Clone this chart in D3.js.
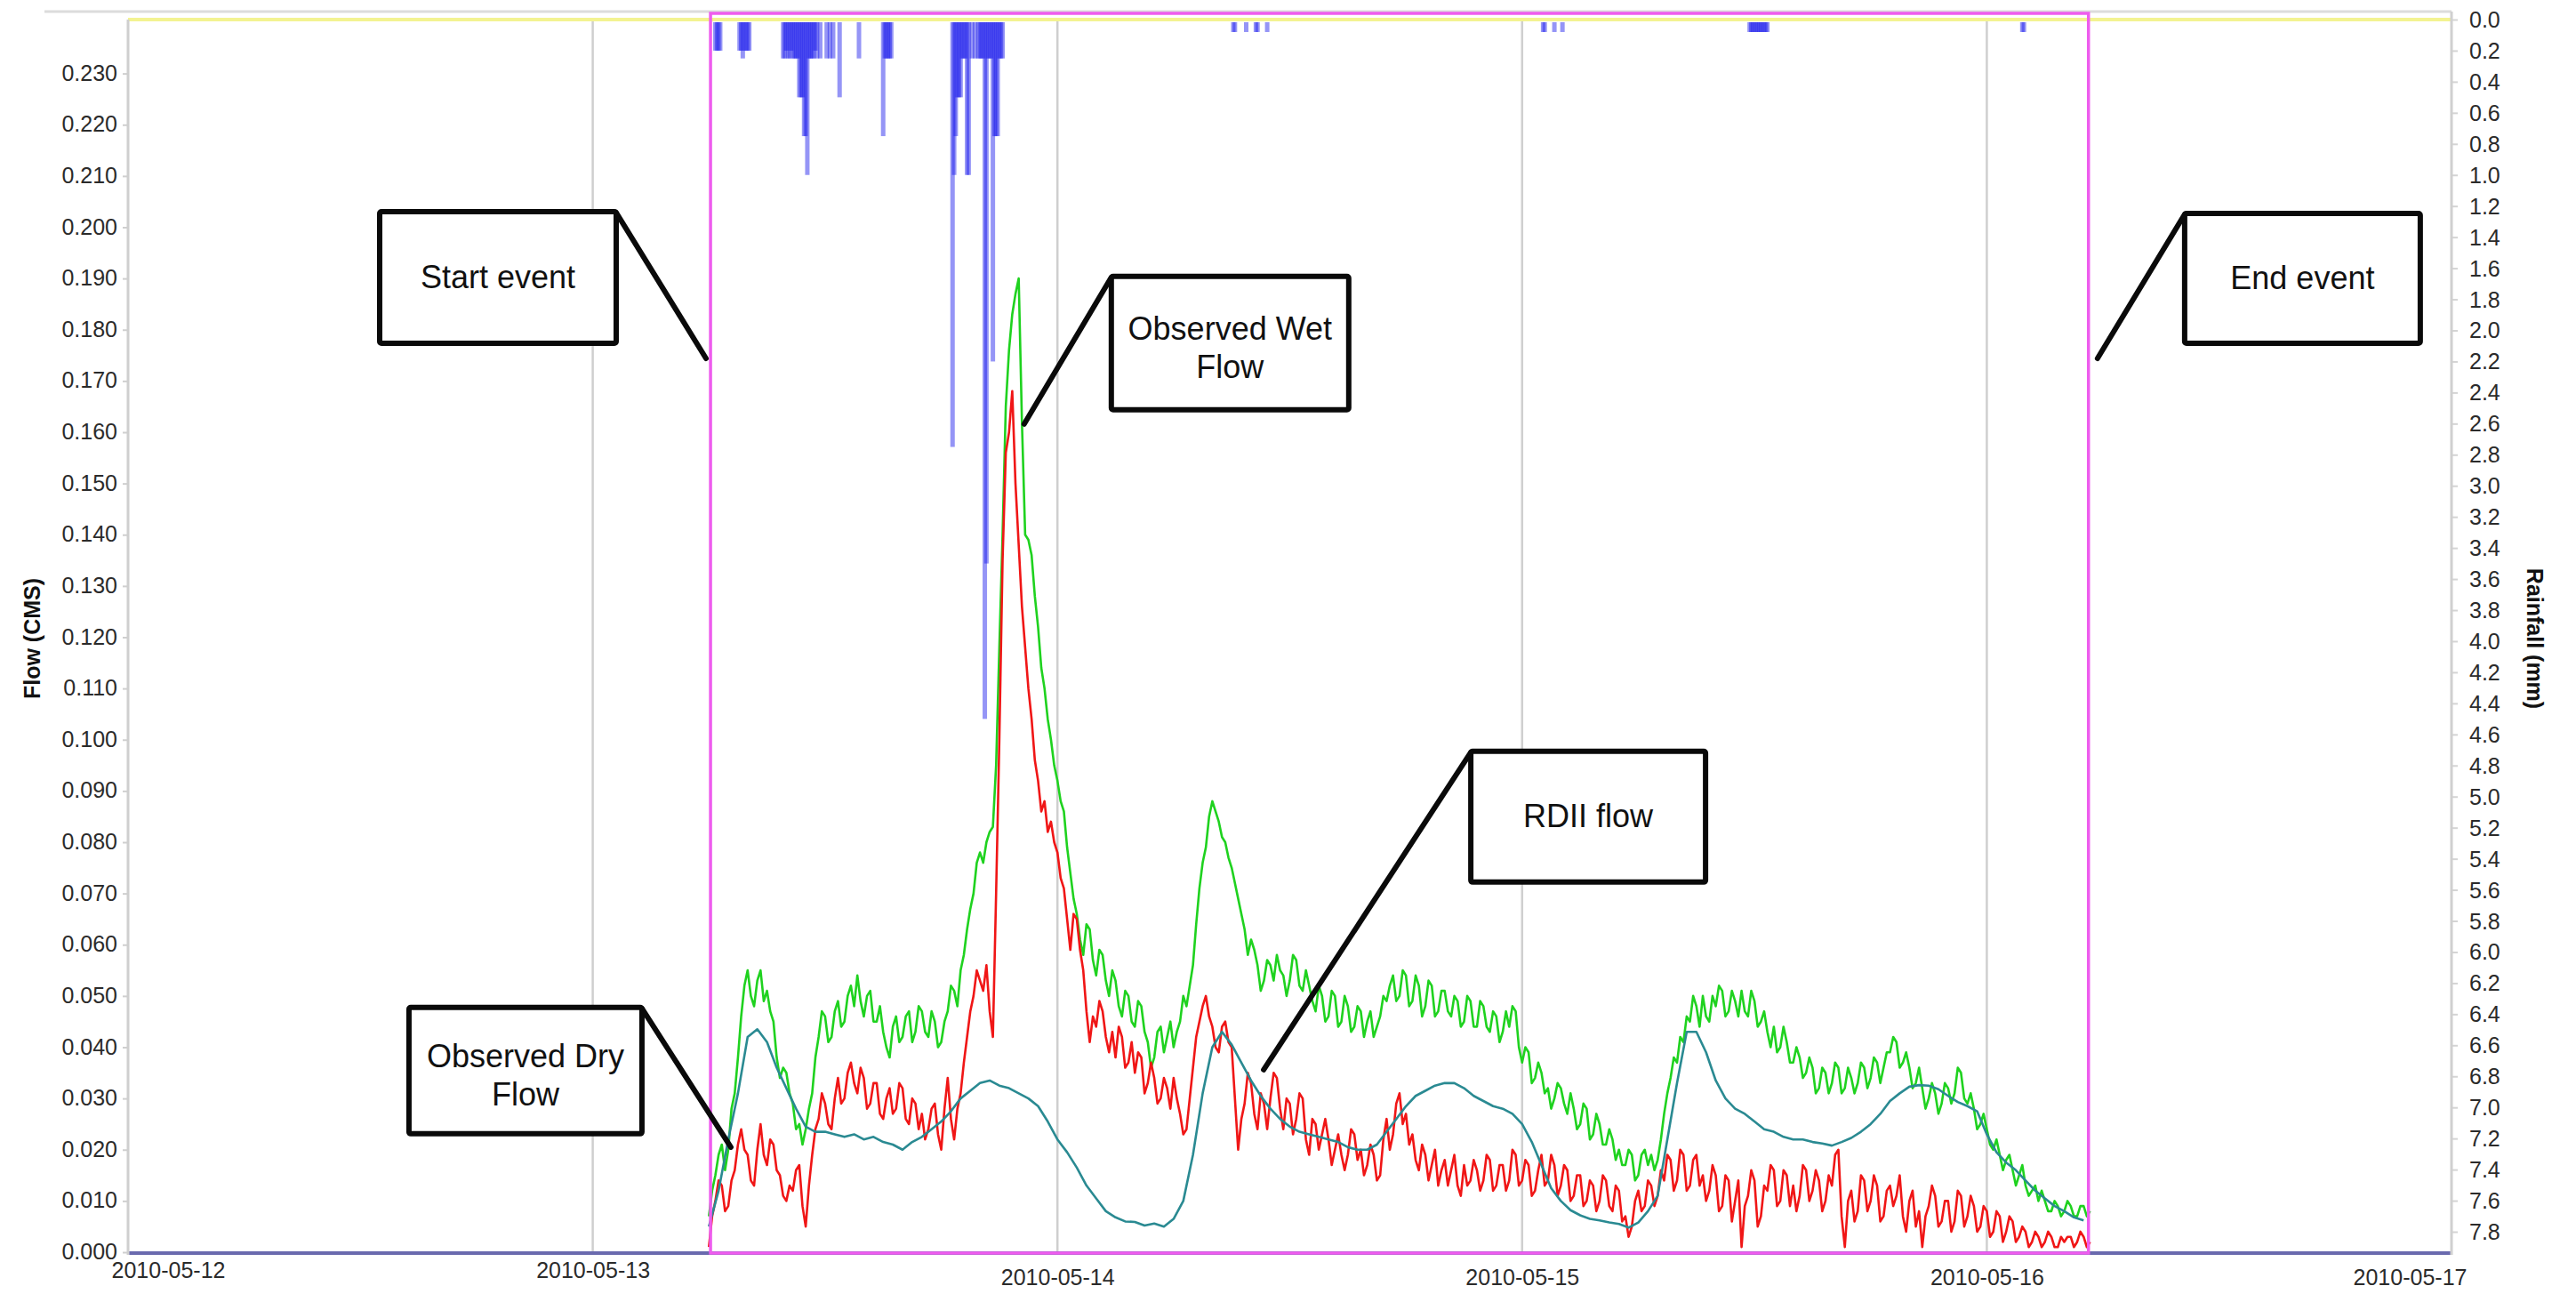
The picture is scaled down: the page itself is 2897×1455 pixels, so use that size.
<!DOCTYPE html>
<html>
<head>
<meta charset="utf-8">
<script src="https://cdn.jsdelivr.net/npm/d3@7"></script>
<style>
  body { margin: 0; background: #fff; }
  svg { display: block; }
  text { font-family: "Liberation Sans", Arial, sans-serif; }
</style>
</head>
<body>
<svg id="chart" width="2897" height="1455"></svg>
<script>
// ---------------------------------------------------------------
// Data
// ---------------------------------------------------------------
const dayTicks = ["2010-05-12", "2010-05-13", "2010-05-14", "2010-05-15", "2010-05-16", "2010-05-17"];

const flowTicks = [0.000, 0.010, 0.020, 0.030, 0.040, 0.050, 0.060, 0.070, 0.080, 0.090,
                   0.100, 0.110, 0.120, 0.130, 0.140, 0.150, 0.160, 0.170, 0.180, 0.190,
                   0.200, 0.210, 0.220, 0.230];

const rainTicks = [0.0, 0.2, 0.4, 0.6, 0.8, 1.0, 1.2, 1.4, 1.6, 1.8, 2.0, 2.2, 2.4, 2.6, 2.8,
                   3.0, 3.2, 3.4, 3.6, 3.8, 4.0, 4.2, 4.4, 4.6, 4.8, 5.0, 5.2, 5.4, 5.6, 5.8,
                   6.0, 6.2, 6.4, 6.6, 6.8, 7.0, 7.2, 7.4, 7.6, 7.8];

// Event window
const eventStart = "2010-05-13T06:05";
const eventEnd   = "2010-05-16T05:15";

// Flow records start at 2010-05-13 06:00; values in L/s, one row per hour
const flowRecordStart = "2010-05-13T06:00";

const wetStepMin = 10;
const wetFlowLps = [
  7, 12, 15, 19, 21, 16,        20, 28, 31, 38, 46, 52,       55, 50, 48, 53, 55, 49,
  51, 47, 45, 38, 34, 36,       35, 31, 29, 24, 25, 21,       24, 28, 31, 38, 42, 47,
  46, 41, 42, 47, 49, 44,       45, 50, 52, 48, 54, 49,       46, 50, 51, 45, 45, 48,
  43, 40, 38, 44, 46, 41,       42, 46, 47, 41, 43, 48,       47, 43, 42, 47, 45, 40,
  41, 45, 47, 52, 51, 48,       55, 58, 63, 67, 70, 76,       78, 76, 80, 82, 83, 95,
  118, 140, 165, 176, 183, 187, 190, 162, 140, 139, 136, 128, 122, 114, 110, 104, 100, 95,
  92, 88, 86, 79, 74, 69,       66, 61, 58, 64, 63, 57,       54, 59, 58, 53, 50, 55,
  53, 48, 46, 51, 50, 45,       44, 49, 48, 43, 41, 36,       38, 43, 44, 39, 42, 45,
  40, 43, 45, 50, 48, 52,       56, 64, 71, 76, 79, 85,       88, 86, 84, 81, 80, 77,
  75, 72, 69, 66, 63, 58,       61, 59, 56, 51, 53, 57,       56, 53, 58, 55, 54, 50,
  53, 58, 57, 52, 51, 55,       52, 49, 47, 52, 50, 45,       46, 51, 50, 44, 45, 50,
  48, 43, 44, 48, 47, 42,       45, 47, 42, 44, 46, 50,       49, 52, 54, 49, 50, 55,
  54, 48, 49, 54, 52, 46,       48, 53, 52, 46, 47, 51,       51, 47, 46, 50, 49, 44,
  45, 50, 49, 44, 44, 49,       48, 44, 43, 47, 46, 41,       43, 47, 44, 48, 47, 40,
  37, 40, 39, 33, 34, 37,       35, 31, 32, 28, 30, 33,       32, 29, 27, 31, 28, 24,
  25, 29, 28, 22, 23, 27,       25, 21, 21, 24, 22, 18,       20, 17, 17, 20, 19, 14,
  15, 19, 20, 17, 19, 16,       18, 22, 27, 31, 34, 38,       37, 42, 41, 46, 45, 50,
  48, 44, 50, 46, 45, 50,       48, 52, 51, 46, 47, 51,       49, 46, 51, 47, 46, 51,
  49, 44, 45, 47, 43, 40,       44, 39, 40, 44, 41, 37,       37, 40, 38, 34, 35, 38,
  36, 31, 32, 36, 35, 31,       33, 37, 36, 31, 32, 36,       34, 31, 33, 37, 36, 32,
  34, 38, 37, 33, 36, 39,       39, 42, 41, 36, 37, 39,       36, 32, 33, 36, 32, 28,
  30, 33, 31, 27, 29, 33,       32, 29, 31, 36, 35, 30,       29, 31, 28, 24, 25, 27,
  24, 21, 20, 22, 19, 16,       18, 19, 16, 13, 15, 17,       13, 11, 12, 13, 10, 12,
  10, 8, 8, 10, 9, 7,           8, 10, 9, 7, 7, 9,            9, 7, 8
];

const rdiiStepMin = 10;
const rdiiFlowLps = [
  1, 7, 10, 14, 13, 8,          9, 14, 16, 21, 24, 20,        19, 14, 13, 20, 25, 19,
  17, 22, 21, 16, 15, 11,       10, 13, 12, 16, 17, 9,        5, 13, 19, 24, 26, 31,
  29, 25, 24, 30, 34, 29,       30, 35, 37, 33, 31, 36,       34, 28, 29, 33, 33, 27,
  26, 30, 32, 27, 28, 33,       32, 26, 25, 30, 29, 24,       27, 22, 24, 28, 29, 23,
  20, 28, 34, 26, 22, 28,       31, 37, 42, 47, 50, 55,       53, 51, 56, 47, 42, 70,
  100, 135, 156, 160, 168, 150, 138, 126, 118, 110, 104, 96,  92, 86, 88, 82, 84, 80,
  78, 73, 71, 65, 59, 66,       65, 59, 55, 47, 41, 46,       44, 49, 47, 42, 39, 43,
  38, 44, 42, 36, 37, 41,       35, 39, 38, 31, 33, 37,       34, 29, 30, 34, 32, 28,
  34, 30, 27, 23, 24, 30,       36, 42, 45, 48, 50, 46,       44, 40, 39, 44, 45, 41,
  40, 30, 20, 26, 29, 35,       33, 27, 24, 31, 29, 24,       30, 35, 34, 28, 24, 30,
  29, 23, 26, 31, 30, 22,       19, 26, 25, 20, 23, 26,       22, 17, 20, 23, 19, 16,
  19, 24, 23, 18, 20, 15,       17, 21, 19, 14, 15, 22,       26, 20, 23, 29, 31, 25,
  27, 21, 23, 18, 16, 21,       19, 14, 17, 20, 13, 16,       18, 13, 16, 19, 13, 11,
  17, 13, 14, 18, 16, 12,       14, 19, 18, 12, 13, 17,       17, 12, 14, 20, 19, 13,
  14, 18, 17, 11, 12, 16,       19, 13, 14, 19, 17, 11,       13, 17, 16, 10, 11, 15,
  15, 9, 10, 14, 13, 8,         10, 15, 14, 9, 8, 13,         12, 6, 7, 3, 5, 10,
  12, 8, 9, 14, 13, 9,          11, 16, 14, 19, 18, 12,       14, 20, 19, 12, 13, 18,
  19, 13, 15, 10, 12, 17,       15, 8, 9, 15, 14, 6,          10, 14, 1, 9, 11, 16,
  14, 5, 7, 13, 12, 17,         16, 9, 10, 16, 15, 9,         13, 8, 11, 17, 16, 10,
  12, 16, 14, 8, 10, 15,        13, 19, 20, 7, 1, 10,         12, 6, 8, 15, 14, 8,
  10, 15, 13, 6, 7, 12,         13, 9, 11, 15, 7, 4,          10, 12, 5, 8, 1, 7,
  9, 13, 11, 5, 6, 10,          10, 4, 6, 12, 11, 5,          7, 11, 9, 4, 5, 9,
  8, 3, 4, 8, 7, 2,             4, 7, 6, 2, 3, 5,             4, 1, 2, 4, 3, 1,
  2, 4, 3, 1, 1, 3,             2, 3, 3, 1, 2, 4,             3, 1, 2
];

const dryStepMin = 30;
const dryFlowLps = [
  5, 12,     22, 31,     42, 43.5,   41, 36,     32, 28,     24.5, 23.5,
  23.5, 23,  22.5, 23,   22, 22.5,   21.5, 21,   20, 21.5,   22.5, 24,
  25.5, 27.5, 30, 31.5,  33, 33.5,   32.5, 32,   31, 30,     28.5, 25.5,
  22, 19.5,  16.5, 13,   10.5, 8,    6.8, 6,     5.9, 5.2,   5.6, 5,
  6.5, 10,   19, 31,     40, 43,     40.5, 37,   33.5, 30.5, 28, 26,
  24.5, 23.5, 23, 22.5,  22, 21.5,   20.5, 20,   20, 21,     23.5, 26,
  28.5, 30.5, 31.5, 32.5, 33, 33,    32, 30.5,   29.5, 28.5, 28, 27,
  25, 21.5,  17, 12.5,   10, 8.2,    7.2, 6.5,   6.2, 5.8,   5.5, 4.8,
  5.8, 8,    11, 22,     33, 43,     43, 39,     33.5, 30,   28, 27,
  25.5, 24,  23.5, 22.5, 22, 22,     21.5, 21.2, 20.8, 21.5, 22.3, 23.5,
  25, 27,    29.5, 31,   32.3, 32.6, 32.5, 31.8, 30.5, 29.3, 28.5, 27.5,
  23, 19.5,  17.5, 16,   14, 12,     10.5, 9,    8, 6.8,     6.2
];

// Rainfall (mm per 5-minute interval)
const rainTimes = [
  "2010-05-13T06:20", "2010-05-13T06:25", "2010-05-13T06:30", "2010-05-13T06:35",
  "2010-05-13T07:35", "2010-05-13T07:40", "2010-05-13T07:45", "2010-05-13T07:50",
  "2010-05-13T07:55", "2010-05-13T08:00", "2010-05-13T08:05",
  "2010-05-13T09:50", "2010-05-13T09:55", "2010-05-13T10:00", "2010-05-13T10:05",
  "2010-05-13T10:10", "2010-05-13T10:15", "2010-05-13T10:20", "2010-05-13T10:25",
  "2010-05-13T10:30", "2010-05-13T10:35", "2010-05-13T10:40", "2010-05-13T10:45",
  "2010-05-13T10:50", "2010-05-13T10:55", "2010-05-13T11:00", "2010-05-13T11:05",
  "2010-05-13T11:10", "2010-05-13T11:15", "2010-05-13T11:20", "2010-05-13T11:25",
  "2010-05-13T11:30", "2010-05-13T11:35", "2010-05-13T11:45",
  "2010-05-13T12:05", "2010-05-13T12:15", "2010-05-13T12:25", "2010-05-13T12:45",
  "2010-05-13T13:45",
  "2010-05-13T15:00", "2010-05-13T15:05", "2010-05-13T15:10", "2010-05-13T15:15",
  "2010-05-13T15:20", "2010-05-13T15:25",
  "2010-05-13T18:35", "2010-05-13T18:40", "2010-05-13T18:45", "2010-05-13T18:50",
  "2010-05-13T18:55", "2010-05-13T19:00", "2010-05-13T19:05", "2010-05-13T19:10",
  "2010-05-13T19:15", "2010-05-13T19:20", "2010-05-13T19:25", "2010-05-13T19:35",
  "2010-05-13T19:45", "2010-05-13T19:55", "2010-05-13T20:00", "2010-05-13T20:05",
  "2010-05-13T20:10", "2010-05-13T20:15", "2010-05-13T20:20", "2010-05-13T20:25",
  "2010-05-13T20:30", "2010-05-13T20:35", "2010-05-13T20:40", "2010-05-13T20:45",
  "2010-05-13T20:50", "2010-05-13T20:55", "2010-05-13T21:00", "2010-05-13T21:05",
  "2010-05-13T21:10",
  "2010-05-14T09:05", "2010-05-14T09:10", "2010-05-14T09:45", "2010-05-14T10:15",
  "2010-05-14T10:20", "2010-05-14T10:50",
  "2010-05-15T01:05", "2010-05-15T01:10", "2010-05-15T01:40", "2010-05-15T02:05",
  "2010-05-15T11:45", "2010-05-15T11:50", "2010-05-15T11:55", "2010-05-15T12:00",
  "2010-05-15T12:05", "2010-05-15T12:10", "2010-05-15T12:15", "2010-05-15T12:20",
  "2010-05-15T12:25", "2010-05-15T12:30", "2010-05-15T12:35", "2010-05-15T12:40",
  "2010-05-16T01:50", "2010-05-16T01:55"
];
const rainMm = [
  0.2, 0.2, 0.2, 0.2,
  0.2, 0.2, 0.25, 0.2,
  0.2, 0.2, 0.2,
  0.25, 0.25, 0.2, 0.25,
  0.25, 0.2, 0.25, 0.25,
  0.25, 0.25, 0.5, 0.5,
  0.5, 0.75, 0.75, 1.0,
  0.25, 0.25, 0.25, 0.25,
  0.2, 0.25, 0.25,
  0.25, 0.25, 0.25, 0.5,
  0.25,
  0.75, 0.25, 0.25, 0.25,
  0.25, 0.25,
  2.75, 1.0, 0.75, 0.5,
  0.5, 0.5, 0.25, 0.25,
  0.25, 1.0, 1.0, 0.25,
  0.25, 0.25, 0.25, 0.25,
  0.25, 4.5, 3.5, 0.25,
  0.25, 0.25, 2.2, 0.75,
  0.75, 0.75, 0.25, 0.25,
  0.25,
  0.08, 0.08, 0.08, 0.08,
  0.08, 0.08,
  0.08, 0.08, 0.08, 0.08,
  0.08, 0.08, 0.08, 0.08,
  0.08, 0.08, 0.08, 0.08,
  0.08, 0.08, 0.08, 0.08,
  0.08, 0.08
];

// ---------------------------------------------------------------
// Scales
// ---------------------------------------------------------------
const parse = d3.timeParse("%Y-%m-%dT%H:%M");
const parseDay = d3.timeParse("%Y-%m-%d");
const svg = d3.select("#chart");

const plot = { left: 144, right: 2757, top: 22, bottom: 1409 };

const x = d3.scaleTime()
  .domain([parseDay(dayTicks[0]), parseDay(dayTicks[dayTicks.length - 1])])
  .range([plot.left, plot.right]);
const yFlow = d3.scaleLinear().domain([0, 0.24]).range([1408, 25]);
const yRain = d3.scaleLinear().domain([0, 7.8]).range([22, 1385]);

const toSeries = (vals, stepMin) => {
  const t0 = parse(flowRecordStart);
  return vals.map((v, i) => ({ t: d3.timeMinute.offset(t0, i * stepMin), q: v / 1000 }));
};

// ---------------------------------------------------------------
// Background frame, grid and reference lines
// ---------------------------------------------------------------
svg.append("line")
  .attr("x1", 50).attr("x2", plot.right).attr("y1", 13).attr("y2", 13)
  .attr("stroke", "#dcdcdc").attr("stroke-width", 3);

svg.append("g").selectAll("line")
  .data(dayTicks.slice(1, -1).map(parseDay))
  .join("line")
  .attr("x1", d => x(d)).attr("x2", d => x(d))
  .attr("y1", plot.top).attr("y2", plot.bottom)
  .attr("stroke", "#cfcfcf").attr("stroke-width", 2.5);

// zero-rain reference along the top
svg.append("line")
  .attr("x1", plot.left).attr("x2", plot.right)
  .attr("y1", yRain(0)).attr("y2", yRain(0))
  .attr("stroke", "#f3f391").attr("stroke-width", 4);

// ---------------------------------------------------------------
// Rainfall bars hanging from the top
// ---------------------------------------------------------------
svg.append("g").selectAll("rect")
  .data(rainTimes.map((t, i) => ({ t: parse(t), mm: rainMm[i] })))
  .join("rect")
  .attr("x", d => x(d.t) - 2.5)
  .attr("y", yRain(0) + 3)
  .attr("width", 5)
  .attr("height", d => yRain(d.mm) - yRain(0) - 3)
  .attr("fill", "#1414ea")
  .attr("fill-opacity", 0.45);

// ---------------------------------------------------------------
// Flow series
// ---------------------------------------------------------------
// zero-flow baseline
svg.append("line")
  .attr("x1", plot.left).attr("x2", plot.right)
  .attr("y1", yFlow(0) + 1).attr("y2", yFlow(0) + 1)
  .attr("stroke", "#6a6aae").attr("stroke-width", 4);

const line = d3.line().x(d => x(d.t)).y(d => yFlow(d.q)).curve(d3.curveLinear);
const series = [
  { name: "Observed Wet Flow", data: toSeries(wetFlowLps, wetStepMin), color: "#1fd21f" },
  { name: "RDII flow", data: toSeries(rdiiFlowLps, rdiiStepMin), color: "#f01616" },
  { name: "Observed Dry Flow", data: toSeries(dryFlowLps, dryStepMin), color: "#2a8a92" }
];
svg.append("g").selectAll("path")
  .data(series)
  .join("path")
  .attr("d", d => line(d.data))
  .attr("fill", "none")
  .attr("stroke", d => d.color)
  .attr("stroke-width", 2.6)
  .attr("stroke-linejoin", "round");

// ---------------------------------------------------------------
// Event window
// ---------------------------------------------------------------
svg.append("rect")
  .attr("x", x(parse(eventStart)))
  .attr("y", 15)
  .attr("width", x(parse(eventEnd)) - x(parse(eventStart)))
  .attr("height", yFlow(0) + 1 - 15)
  .attr("fill", "none")
  .attr("stroke", "#ee5cee")
  .attr("stroke-width", 3.5);

// ---------------------------------------------------------------
// Axes
// ---------------------------------------------------------------
const axisFont = g => g.selectAll("text")
  .attr("font-size", 25).attr("fill", "#2b2b2b")
  .attr("font-family", "'Liberation Sans', Arial, sans-serif");

// left: flow
const gLeft = svg.append("g").attr("transform", `translate(${plot.left},0)`)
  .call(d3.axisLeft(yFlow).tickValues(flowTicks).tickFormat(d3.format(".3f"))
        .tickSize(6).tickPadding(6))
  .call(axisFont);
gLeft.select(".domain").remove();
gLeft.selectAll(".tick line").attr("stroke", "#cfcfcf").attr("stroke-width", 2);
gLeft.selectAll(".tick text").attr("dy", "0.3em");
svg.append("line")
  .attr("x1", plot.left).attr("x2", plot.left).attr("y1", plot.top).attr("y2", plot.bottom + 2)
  .attr("stroke", "#cfcfcf").attr("stroke-width", 3);

// right: rainfall
const gRight = svg.append("g").attr("transform", `translate(${plot.right},0)`)
  .call(d3.axisRight(yRain).tickValues(rainTicks).tickFormat(d3.format(".1f"))
        .tickSize(7).tickPadding(13))
  .call(axisFont);
gRight.select(".domain").remove();
gRight.selectAll(".tick line").attr("stroke", "#d4d4d4").attr("stroke-width", 2);
gRight.selectAll(".tick text").attr("dy", "0.34em");
svg.append("line")
  .attr("x1", plot.right).attr("x2", plot.right).attr("y1", 13).attr("y2", plot.bottom + 2)
  .attr("stroke", "#d0d0d0").attr("stroke-width", 3);

// bottom: dates
const gBottom = svg.append("g").attr("transform", `translate(0,${plot.bottom})`)
  .call(d3.axisBottom(x).tickValues(dayTicks.map(parseDay))
        .tickFormat(d3.timeFormat("%Y-%m-%d")).tickSize(0).tickPadding(10))
  .call(axisFont);
gBottom.select(".domain").remove();
const nDays = dayTicks.length;
gBottom.selectAll(".tick text")
  .attr("dy", (d, i) => i < 2 ? "0.71em" : "1.04em")
  .attr("dx", (d, i) => i === 0 ? 45 : (i === nDays - 1 ? -47 : 0));

// axis titles
svg.append("text")
  .attr("transform", "translate(45,718) rotate(-90)")
  .attr("text-anchor", "middle")
  .attr("font-size", 25).attr("font-weight", "bold").attr("fill", "#111")
  .text("Flow (CMS)");
svg.append("text")
  .attr("transform", "translate(2842,718) rotate(90)")
  .attr("text-anchor", "middle")
  .attr("font-size", 25).attr("font-weight", "bold").attr("fill", "#111")
  .text("Rainfall (mm)");

// ---------------------------------------------------------------
// Callouts: pointer tip in data units, box offset from the tip in px
// ---------------------------------------------------------------
const callouts = [
  { lines: ["Start event"],          tip: ["2010-05-13T05:51", 0.1744], box: [-367, -165, 266, 148], corner: "tr" },
  { lines: ["Observed Wet", "Flow"], tip: ["2010-05-13T22:17", 0.1616], box: [98, -166, 267, 150],   corner: "tl" },
  { lines: ["End event"],            tip: ["2010-05-16T05:43", 0.1744], box: [98, -163, 265, 146],   corner: "tl" },
  { lines: ["RDII flow"],            tip: ["2010-05-14T10:39", 0.0356], box: [233, -358, 264, 147],  corner: "tl" },
  { lines: ["Observed Dry", "Flow"], tip: ["2010-05-13T07:08", 0.0205], box: [-362, -157, 262, 142], corner: "tr" }
];

const gCall = svg.append("g");
callouts.forEach(c => {
  const tx = x(parse(c.tip[0])), ty = yFlow(c.tip[1]);
  const [dx, dy, w, h] = c.box;
  const bx = tx + dx, by = ty + dy;
  const cx = c.corner === "tr" ? bx + w : bx;
  gCall.append("rect")
    .attr("x", bx).attr("y", by).attr("width", w).attr("height", h)
    .attr("rx", 2)
    .attr("fill", "#fff").attr("stroke", "#0a0a0a").attr("stroke-width", 6);
  gCall.append("line")
    .attr("x1", cx).attr("y1", by + 1).attr("x2", tx).attr("y2", ty)
    .attr("stroke", "#0a0a0a").attr("stroke-width", 6).attr("stroke-linecap", "round");
  const midY = by + h / 2;
  const t = gCall.append("text")
    .attr("text-anchor", "middle")
    .attr("font-size", 36).attr("fill", "#111");
  if (c.lines.length === 1) {
    t.append("tspan").attr("x", bx + w / 2).attr("y", midY + 12).text(c.lines[0]);
  } else {
    t.append("tspan").attr("x", bx + w / 2).attr("y", midY - 4).text(c.lines[0]);
    t.append("tspan").attr("x", bx + w / 2).attr("y", midY + 39).text(c.lines[1]);
  }
});
</script>
</body>
</html>
